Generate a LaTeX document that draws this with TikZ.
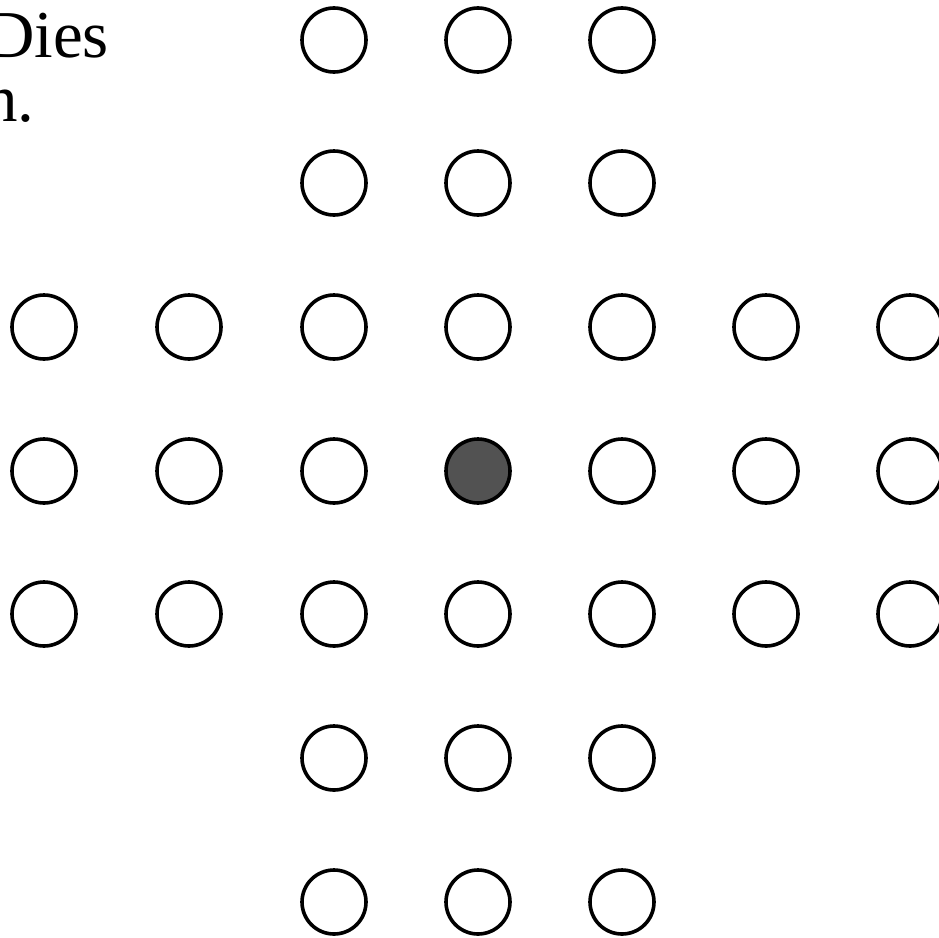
\documentclass[tikz,border=0pt]{standalone}
\usepackage{fontspec}
\setmainfont{Liberation Serif}
\begin{document}
\begin{tikzpicture}[x=1pt,y=-1pt,
  hole/.style={circle,draw=black,line width=3.6pt,minimum size=64pt,inner sep=0pt,fill=white},
  peg/.style={hole,fill=black!68},
  txt/.style={font=\fontsize{67}{64}\selectfont,inner sep=0pt,anchor=base west}]
\useasboundingbox (0,0) rectangle (939,937);
\clip (0,0) rectangle (939,937);
\node[txt] (t1) at (-14,57) {Dies};
\node[txt] (t2) at (-16,121) {n.};
\foreach \i/\xx in {0/44,1/189,2/334,3/478,4/622,5/766,6/910}{
  \foreach \j/\yy in {0/40,1/183,2/327,3/471,4/614,5/758,6/902}{
    \pgfmathtruncatemacro{\inarm}{((\i>=2)&&(\i<=4))||((\j>=2)&&(\j<=4))}
    \ifnum\inarm=1
      \ifnum\i=3 \ifnum\j=3
        \node[peg] (h\i\j) at (\xx,\yy) {};
      \else
        \node[hole] (h\i\j) at (\xx,\yy) {};
      \fi
      \else
        \node[hole] (h\i\j) at (\xx,\yy) {};
      \fi
    \fi
  }
}
\end{tikzpicture}
\end{document}
